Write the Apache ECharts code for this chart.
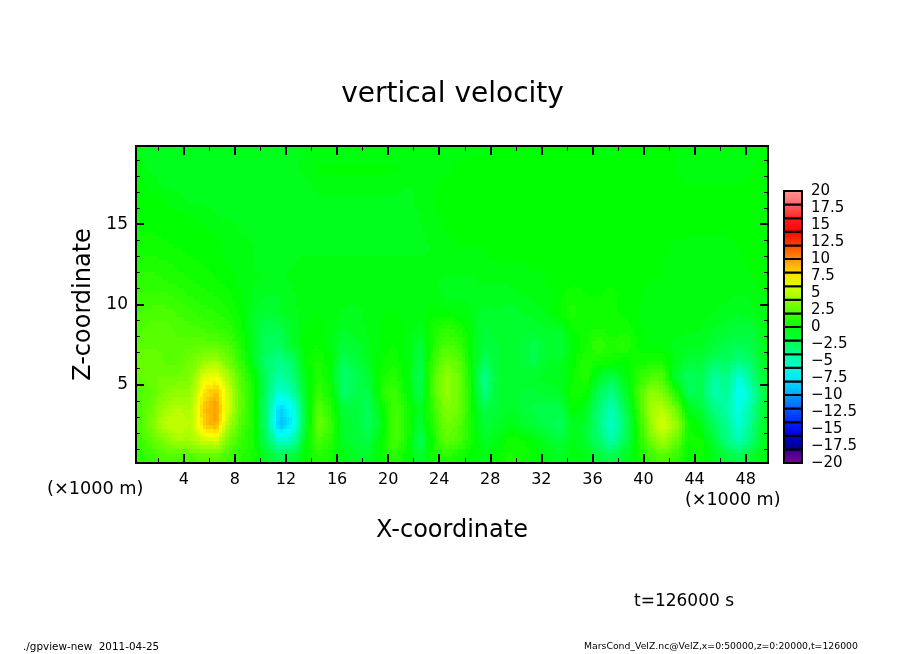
<!DOCTYPE html>
<html><head><meta charset="utf-8">
<style>html,body{margin:0;padding:0;background:#fff}#c{width:904px;height:654px}</style>
<script src="https://cdn.jsdelivr.net/npm/echarts@6/dist/echarts.min.js"></script>
</head><body><div id="c"></div>
<script>
const xCenters=[0.5,1.5,2.5,3.5,4.5,5.5,6.5,7.5,8.5,9.5,10.5,11.5,12.5,13.5,14.5,15.5,16.5,17.5,18.5,19.5,20.5,21.5,22.5,23.5,24.5,25.5,26.5,27.5,28.5,29.5,30.5,31.5,32.5,33.5,34.5,35.5,36.5,37.5,38.5,39.5,40.5,41.5,42.5,43.5,44.5,45.5,46.5,47.5,48.5,49.5];
const zCenters=[0.5,1.5,2.5,3.5,4.5,5.5,6.5,7.5,8.5,9.5,10.5,11.5,12.5,13.5,14.5,15.5,16.5,17.5,18.5,19.5];
const z00=[1,1.5,2,2,2,2.5,2.5,1.5,1,.5,-1,-2,-1.5,0,1,.5,-.5,-1,-1,.3,1,0,-1.5,.5,1,.5,0,-.5,0,.7,.5,0,-.5,-.8,-.3,-.5,-1.5,-2,-1,.2,1.5,2,1.5,0,.5,-.5,-1.5,-2,-1,-.3];
const z01=[1.5,2.5,3.5,4.5,4.5,5.5,6,3,1.5,.5,-2.5,-5.5,-5,-.5,2,1,-1,-1.5,-1.8,.2,2,.5,-2.5,.5,2.5,2,.5,-1,-.5,.5,.3,-.3,-1,-1.5,-.5,-1.2,-3,-4.5,-2.5,.3,3,4.5,3,.2,.5,-1.5,-3.5,-5,-3,-.5];
const z02=[2,3.5,5,5.5,5,8,9.5,4.5,2,.5,-3.5,-9,-7.5,-1.5,3,1.5,-1.2,-1.5,-2.5,-.5,2,.7,-1.5,1,3,2.5,.5,-1.5,-1.2,-.5,-1,-1.5,-2,-2.5,-.8,-1.2,-3.5,-5.5,-3,.5,4,6,4.5,.5,-.5,-2.5,-4,-6,-3.5,-.8];
const z03=[2,3,4.5,5,4.5,8.5,10,5.5,2.5,.5,-3.5,-8.5,-7,-1.5,2.5,1,-1.5,-1.5,-2.5,0,2,.7,-1.2,1.5,3.5,3,.5,-2,-1.5,-1,-1.5,-2,-2,-2,.2,-.8,-3.2,-5,-2.5,1,4.5,5,3,-.5,-1.5,-3.5,-4.5,-6.5,-4,-1.2];
const z04=[2,2.5,3.5,4,4,7.5,9,5.5,2.5,.5,-3,-6,-4.8,-1,1.5,.3,-2.8,-2.2,-2,1,1.7,0,-2.2,2,4,3,.5,-3.5,-1.5,-1,-1.5,-1.5,-1.2,-1,.5,.3,-2.5,-3.5,-1.5,1.5,4,3.5,1,-2.5,-2,-5,-4,-7,-5,-1.5];
const z05=[2.5,3,3,3,3.5,6,7,4.5,2,.2,-2.8,-4.5,-3.5,-.5,1,0,-3,-2.2,-1.2,.5,1,-.3,-2.4,2,4,3,.3,-4,-1.5,-1,-1.2,-1,-.8,-.8,.2,1,-1,-2,-.5,1,2,2,-1.5,-2.5,-2,-4.5,-3.5,-6,-3.5,-1.2];
const z06=[3,3,2.5,2.5,3,4,4.5,3,1.2,-1,-3,-3.8,-2.8,0,.7,-.2,-2.2,-1.6,-.8,.2,.5,-.3,-2,1.5,3,2.5,0,-2.5,-1.5,-1,-1.5,-2,-1,-1,0,1,.5,.5,0,.3,.5,.5,-.5,-1.5,-1.5,-2.5,-2.5,-3.5,-2.5,-.8];
const z07=[2.5,2.5,2.5,2.5,2.5,2.5,2.5,2,.7,-1,-2.5,-2.5,-1,0,.2,-.4,-1.5,-1.2,-.6,0,.2,-.4,-1.5,.8,2,1.5,-.2,-1.5,-1.5,-1,-1.5,-2,-1.2,-1.5,-.3,.5,1.5,.8,1.2,.2,-.3,-.3,-.7,-.8,-.8,-1.5,-2,-2.2,-2,-.6];
const z08=[2,2.5,2.5,2,2,1.8,1.5,1.2,.3,-1.2,-2.2,-2,-1,-.2,0,-.4,-1,-.8,-.5,-.2,0,-.3,-.8,.5,1.2,.8,-.3,-1.5,-1.2,-1.2,-1.2,-1.3,-1,-1,.3,.3,.7,.3,.5,0,-.5,-.4,-.5,-.5,-.6,-1,-1.2,-1.5,-1.5,-.5];
const z09=[1.8,2,2,1.8,1.5,1.2,1,.7,0,-1,-1.5,-1,-.8,-.3,-.2,-.3,-.7,-.7,-.5,-.2,-.2,-.3,-.5,.1,0,-.3,-.5,-1.3,-1,-1.3,-1,-.8,-.5,.3,.8,.3,.2,.3,.1,-.2,-.4,-.4,-.4,-.4,-.4,-.6,-.8,-1,-.8,-.3];
const z10=[1.5,1.5,1.5,1.3,1,.8,.6,.3,-.2,-.8,-1,-1,-.7,-.3,-.2,-.2,-.4,-.5,-.4,-.3,-.2,-.2,-.3,-.4,-.7,-.7,-.7,-.8,-.8,-.8,-.6,-.5,-.3,.2,.4,.2,.2,.3,.1,-.1,-.3,-.3,-.3,-.3,-.3,-.4,-.5,-.6,-.5,-.2];
const z11=[1.2,1.2,1,.8,.6,.4,.2,0,-.3,-.5,-.7,-.7,-.5,-.4,-.3,-.3,-.4,-.4,-.4,-.3,-.3,-.3,-.4,-.5,-.7,-.7,-.7,-.5,-.5,-.5,-.4,-.3,-.2,0,.1,.1,.1,.1,0,-.1,-.2,-.2,-.2,-.2,-.2,-.2,-.3,-.3,-.2,0];
const z12=[.8,.8,.7,.5,.3,.2,0,-.2,-.4,-.6,-.7,-.7,-.6,-.5,-.5,-.5,-.5,-.5,-.5,-.5,-.5,-.5,-.5,-.5,-.3,-.4,-.4,-.3,-.2,-.2,-.2,-.1,-.1,0,0,0,0,0,0,-.1,-.1,-.2,-.3,-.4,-.4,-.4,-.4,-.3,-.1,.1];
const z13=[.4,.4,.3,.2,.1,0,-.1,-.3,-.5,-.6,-.7,-.7,-.7,-.7,-.7,-.7,-.7,-.7,-.7,-.7,-.7,-.7,-.7,-.6,-.3,-.2,-.2,-.2,-.1,-.1,-.1,0,0,0,0,0,0,0,0,0,-.1,-.1,-.3,-.4,-.5,-.5,-.4,-.2,0,.1];
const z14=[.2,.2,.1,0,0,-.1,-.2,-.4,-.6,-.7,-.7,-.7,-.7,-.7,-.7,-.7,-.7,-.7,-.7,-.7,-.7,-.7,-.7,-.4,-.2,-.1,-.1,-.1,0,0,0,0,0,0,0,0,0,0,0,0,0,-.1,-.1,-.1,-.1,-.1,-.1,0,0,.1];
const z15=[.2,.1,0,-.1,-.2,-.4,-.6,-.7,-.7,-.7,-.7,-.7,-.7,-.7,-.7,-.7,-.7,-.7,-.7,-.7,-.7,-.7,-.6,-.3,-.1,0,0,0,0,0,0,0,0,0,0,0,0,0,0,0,0,0,0,0,0,0,0,0,0,0];
const z16=[0,0,-.2,-.5,-.7,-.7,-.7,-.7,-.7,-.7,-.7,-.7,-.7,-.7,-.7,-.7,-.7,-.7,-.7,-.7,-.7,-.7,-.5,-.2,0,0,0,0,0,0,0,0,0,0,0,0,0,0,0,0,0,0,0,0,0,0,0,0,0,0];
const z17=[-.1,-.4,-.7,-.7,-.7,-.7,-.7,-.7,-.7,-.7,-.7,-.7,-.7,-.7,-.4,-.3,-.3,-.3,-.3,-.3,-.4,-.6,-.5,-.2,-.1,0,0,0,0,0,0,0,0,0,0,0,0,0,0,0,0,0,0,-.2,-.2,-.2,-.2,-.2,0,0];
const z18=[-.5,-.7,-.7,-.7,-.7,-.7,-.7,-.7,-.7,-.7,-.7,-.7,-.7,-.5,-.1,-.1,-.1,-.1,-.1,-.1,-.1,-.4,-.6,-.5,-.3,-.1,0,0,0,0,0,0,0,0,0,0,0,0,0,0,0,0,-.2,-.5,-.5,-.5,-.5,-.5,-.2,-.1];
const z19=[-.6,-.7,-.7,-.7,-.7,-.7,-.7,-.7,-.7,-.7,-.7,-.7,-.7,-.6,-.4,-.4,-.4,-.4,-.4,-.4,-.4,-.5,-.6,-.5,-.4,-.3,-.3,-.3,-.2,-.1,0,0,0,0,0,0,-.3,-.3,0,0,0,0,-.2,-.3,-.3,-.3,-.3,-.3,-.3,-.2];
const fieldRows=[z00,z01,z02,z03,z04,z05,z06,z07,z08,z09,z10,z11,z12,z13,z14,z15,z16,z17,z18,z19];
const xMajorTicks=[4,8,12,16,20,24,28,32,36,40,44,48];
const xMinorTicks=[2,6,10,14,18,22,26,30,34,38,42,46];
const zMajorTicks=[5,10,15];
const zMinorTicks=[1,2,3,4,6,7,8,9,11,12,13,14,16,17,18,19];
const barLevels=[-20,-18,-16,-14,-12,-10,-8,-6,-4,-2,0,2,4,6,8,10,12,14,16,18];
const paletteStops=[[-20,120,0,160],[-18.01,50,0,140],[-18,0,0,130],[-15,0,0,255],[-7,0,255,255],[0,0,255,0],[7,255,255,0],[14,255,0,0],[15,255,0,0],[18,255,100,100],[20,255,150,150]];

function rgbOf(v){
  v=Math.max(-20,Math.min(20,v));
  for(let k=1;k<paletteStops.length;k++){
    const a=paletteStops[k-1],b=paletteStops[k];
    if(v<=b[0]){const t=(v-a[0])/(b[0]-a[0]);
      return 'rgb('+[1,2,3].map(i=>Math.round(a[i]+(b[i]-a[i])*t)).join(',')+')';}
  }
  return 'rgb(255,150,150)';
}
// shading of one cell: colour at a fraction inside the table, as a display gradient only
function shade(i,j,fx,fz){
  let x=i+fx,z=j+fz;
  x=Math.max(0,Math.min(xCenters.length-1,x));z=Math.max(0,Math.min(zCenters.length-1,z));
  const i0=Math.min(Math.floor(x),xCenters.length-2),j0=Math.min(Math.floor(z),zCenters.length-2);
  const u=x-i0,w=z-j0;
  const r0=fieldRows[j0],r1=fieldRows[j0+1];
  const v=(r0[i0]*(1-u)+r0[i0+1]*u)*(1-w)+(r1[i0]*(1-u)+r1[i0+1]*u)*w;
  return rgbOf(Math.round(v/0.4)*0.4);
}
const fieldData=[];
fieldRows.forEach((row,j)=>row.forEach((v,i)=>fieldData.push([xCenters[i],zCenters[j],v,i,j])));
const SUBX=4,SUBZ=4;
function renderCell(params,api){
  const i=api.value(3),j=api.value(4),x=api.value(0),z=api.value(1);
  const kids=[];
  for(let a=0;a<SUBX;a++)for(let b=0;b<SUBZ;b++){
    const p0=api.coord([x-0.5+a/SUBX,z-0.5+b/SUBZ]);
    const p1=api.coord([x-0.5+(a+1)/SUBX,z-0.5+(b+1)/SUBZ]);
    const l=Math.round(p0[0]),r=Math.round(p1[0]),t=Math.round(p1[1]),bt=Math.round(p0[1]);
    kids.push({type:'rect',shape:{x:l,y:t,width:r-l,height:bt-t},
      style:{fill:shade(i,j,(a+.5)/SUBX-.5,(b+.5)/SUBZ-.5)}});
  }
  return {type:'group',children:kids};
}
function renderBar(params,api){
  const lo=api.value(1),hi=api.value(2);
  const p0=api.coord([0,lo]),p1=api.coord([1,hi]);
  return {type:'rect',shape:{x:p0[0],y:p1[1],width:p1[0]-p0[0],height:p0[1]-p1[1]},
    style:{stroke:'#000',lineWidth:2,fill:new echarts.graphic.LinearGradient(0,0,0,1,[
      {offset:0,color:rgbOf(hi-0.01)},{offset:1,color:rgbOf(lo+0.01)}])}};
}
const FF='"DejaVu Sans"';
const frame={show:true,onZero:false,lineStyle:{color:'#000',width:2}};
function xAx(pos,ticks,len,w,extra){return Object.assign({type:'value',gridIndex:0,position:pos,min:0.25,max:49.75,z:10,splitLine:{show:false},
  axisLine:frame,axisTick:{show:true,inside:true,length:len,customValues:ticks,lineStyle:{color:'#000',width:w}},axisLabel:{show:false}},extra||{});}
function yAx(pos,ticks,len,w,extra){return Object.assign({type:'value',gridIndex:0,position:pos,min:0.125,max:19.875,z:10,splitLine:{show:false},
  axisLine:frame,axisTick:{show:true,inside:true,length:len,customValues:ticks,lineStyle:{color:'#000',width:w}},axisLabel:{show:false}},extra||{});}
const chart=echarts.init(document.getElementById('c'),null,{renderer:'canvas',width:904,height:654});
chart.setOption({
  animation:false,backgroundColor:'#fff',
  title:{text:'vertical velocity',left:447.5,top:76,textAlign:'center',textStyle:{fontFamily:FF,fontWeight:'normal',fontSize:28,color:'#000'}},
  grid:[{left:136,top:146,width:632,height:317},{left:784,top:191,width:18,height:272}],
  xAxis:[
    xAx('bottom',xMajorTicks,9,2,{name:'X-coordinate',nameLocation:'middle',nameGap:56,nameTextStyle:{fontFamily:FF,fontSize:24,color:'#000'},
      axisLabel:{show:true,customValues:xMajorTicks,margin:9,fontFamily:FF,fontSize:16,color:'#000'}}),
    xAx('bottom',xMinorTicks,5,1),xAx('top',xMajorTicks,9,2),xAx('top',xMinorTicks,5,1),
    {type:'value',gridIndex:1,min:0,max:1,show:false}
  ],
  yAxis:[
    yAx('left',zMajorTicks,8,2,{name:'Z-coordinate',nameLocation:'middle',nameGap:39,nameTextStyle:{fontFamily:FF,fontSize:24,color:'#000'},
      axisLabel:{show:true,customValues:zMajorTicks,margin:8,fontFamily:FF,fontSize:17,color:'#000'}}),
    yAx('left',zMinorTicks,4,1),yAx('right',zMajorTicks,8,2),yAx('right',zMinorTicks,4,1),
    {type:'value',gridIndex:1,position:'right',min:-20,max:20,interval:2.5,splitLine:{show:false},axisLine:{show:false},axisTick:{show:false},
      axisLabel:{show:true,margin:9,align:'left',fontFamily:FF,fontSize:15,color:'#000',formatter:v=>String(v).replace('-','\u2212')}}
  ],
  series:[
    {type:'custom',name:'vertical velocity',xAxisIndex:0,yAxisIndex:0,clip:true,silent:true,data:fieldData,encode:{x:0,y:1},renderItem:renderCell},
    {type:'custom',name:'colorbar',xAxisIndex:4,yAxisIndex:4,silent:true,data:barLevels.map(l=>[0,l,l+2]),encode:{y:[1,2]},renderItem:renderBar}
  ],
  graphic:{elements:[
    {type:'text',left:47,top:480,style:{text:'(\u00d71000 m)',fontFamily:FF,fontSize:17.7,fill:'#000'}},
    {type:'text',left:685,top:491,style:{text:'(\u00d71000 m)',fontFamily:FF,fontSize:17.5,fill:'#000'}},
    {type:'text',left:634,top:593,style:{text:'t=126000 s',fontFamily:FF,fontSize:17,fill:'#000'}},
    {type:'text',left:23,top:642,style:{text:'./gpview-new  2011-04-25',fontFamily:FF,fontSize:10.4,fill:'#000'}},
    {type:'text',left:584,top:642,style:{text:'MarsCond_VelZ.nc@VelZ,x=0:50000,z=0:20000,t=126000',fontFamily:FF,fontSize:9.3,fill:'#000'}}
  ]}
});
</script></body></html>
